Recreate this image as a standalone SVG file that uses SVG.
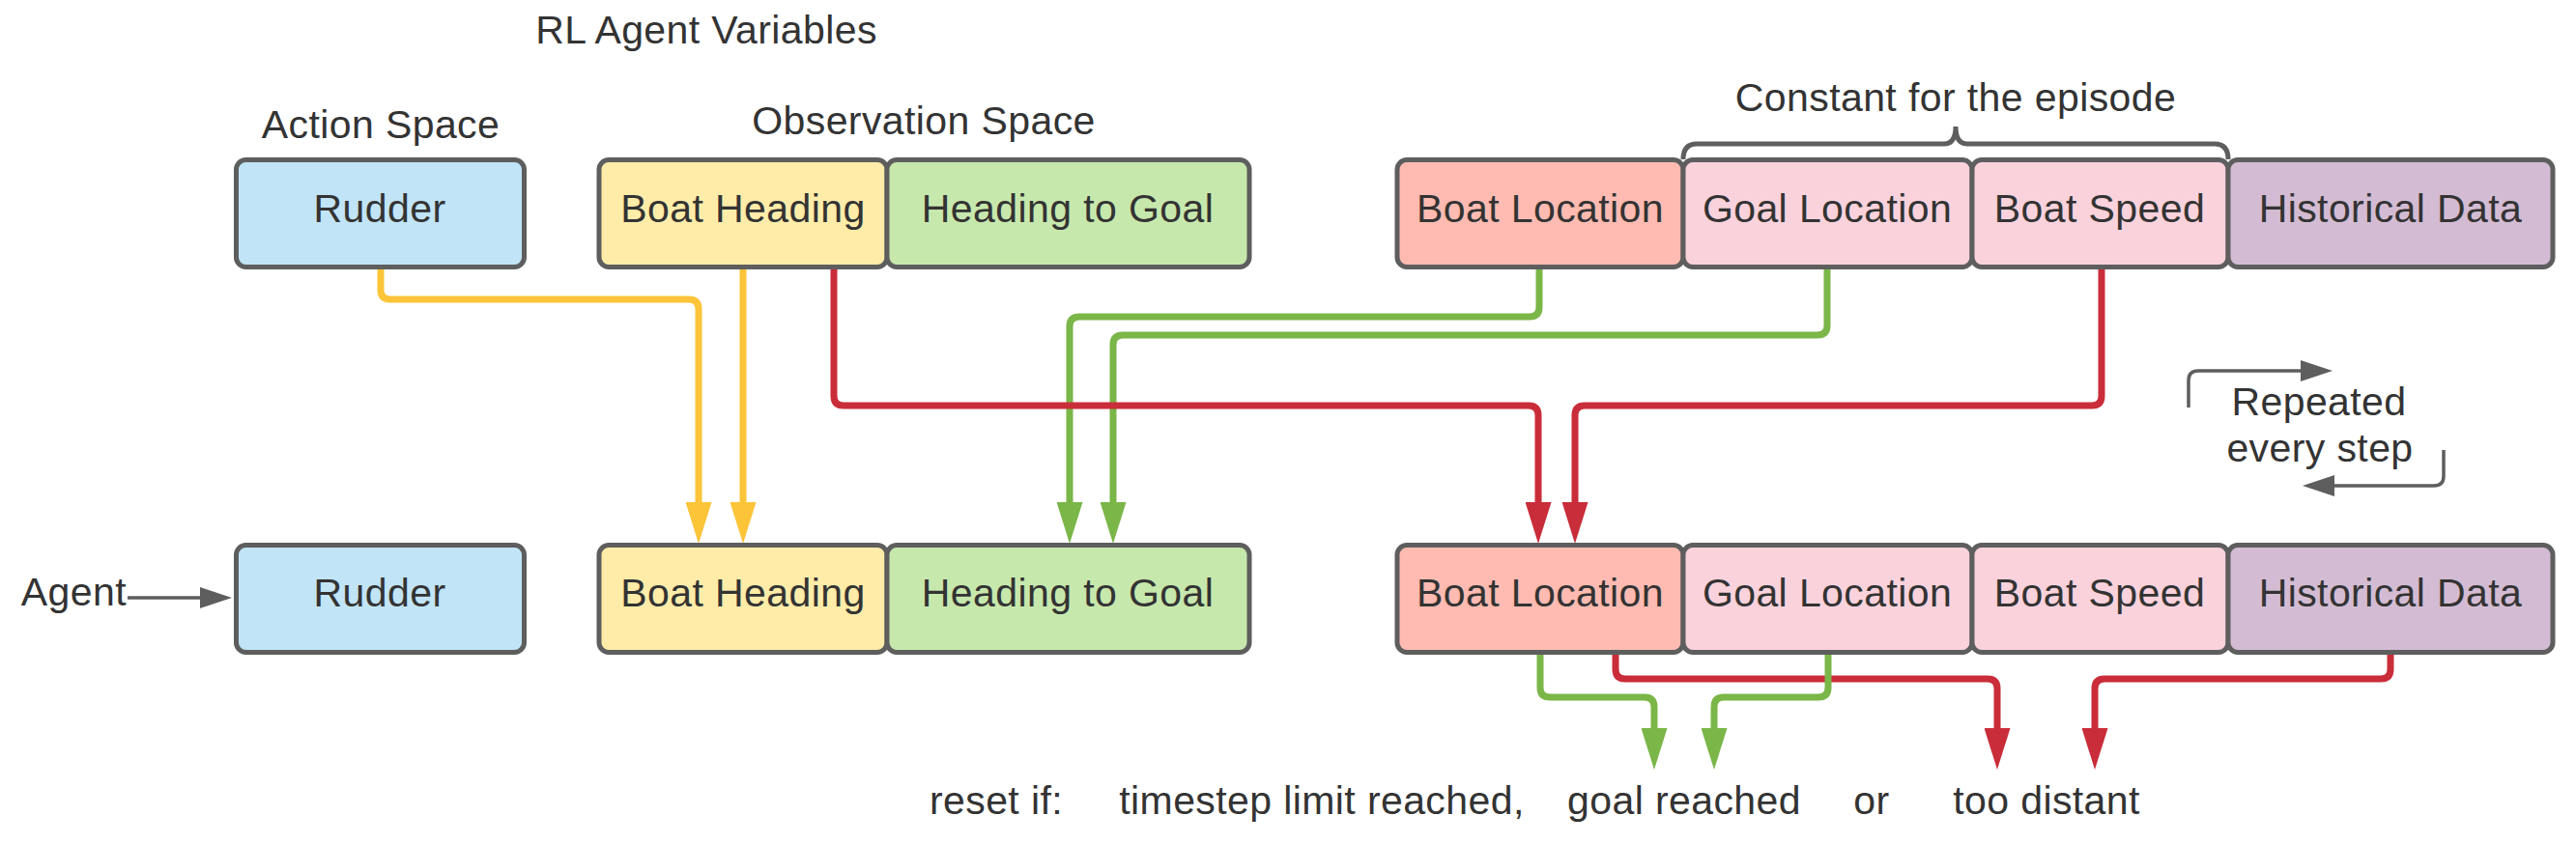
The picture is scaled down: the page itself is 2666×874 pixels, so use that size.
<svg xmlns="http://www.w3.org/2000/svg" width="2666" height="874" viewBox="0 0 2666 874">
<style>
text{font-family:"Liberation Sans",Arial,sans-serif;font-size:41px;letter-spacing:0.4px;fill:#333333;text-anchor:middle}
.box{stroke:#5e5e5e;stroke-width:5}
.blue{fill:#c1e4f7}.yellow{fill:#ffeca9}.green{fill:#c7e8ac}.red{fill:#ffbbb1}.pink{fill:#fad2dc}.purple{fill:#d3bcd3}
.c{fill:none;stroke-width:7;stroke-linejoin:round}
.cy{stroke:#fcc438}.cg{stroke:#7ab648}.cr{stroke:#c92d39}
.gr{fill:none;stroke:#5e5e5e;stroke-width:3.5}
</style>
<defs>
<marker id="ay" viewBox="0 -13.5 43 27" refX="1" refY="0" markerWidth="43" markerHeight="27" markerUnits="userSpaceOnUse" orient="auto"><path d="M0,-13.5 L43,0 L0,13.5 z" fill="#fcc438"/></marker>
<marker id="ag" viewBox="0 -13.5 43 27" refX="1" refY="0" markerWidth="43" markerHeight="27" markerUnits="userSpaceOnUse" orient="auto"><path d="M0,-13.5 L43,0 L0,13.5 z" fill="#7ab648"/></marker>
<marker id="ar" viewBox="0 -13.5 43 27" refX="1" refY="0" markerWidth="43" markerHeight="27" markerUnits="userSpaceOnUse" orient="auto"><path d="M0,-13.5 L43,0 L0,13.5 z" fill="#c92d39"/></marker>
<marker id="ak" viewBox="0 -11 33 22" refX="1" refY="0" markerWidth="33" markerHeight="22" markerUnits="userSpaceOnUse" orient="auto"><path d="M0,-11 L33,0 L0,11 z" fill="#5e5e5e"/></marker>
</defs>
<rect width="2666" height="874" fill="#ffffff"/>

<g id="labels">
<text x="731" y="45">RL Agent Variables</text>
<text x="394" y="143">Action Space</text>
<text x="956" y="139">Observation Space</text>
<text x="2024" y="115">Constant for the episode</text>
<path d="M1742,165 Q1742,149 1756,149 H2012 Q2024,149 2024,131 Q2024,149 2036,149 H2292 Q2306,149 2306,165" fill="none" stroke="#5e5e5e" stroke-width="5"/>
</g>

<g id="connectors">
<path class="c cg" d="M1593,279 V318 Q1593,328 1583,328 H1117 Q1107,328 1107,338 V521" marker-end="url(#ag)"/>
<path class="c cg" d="M1891,279 V337 Q1891,347 1881,347 H1162 Q1152,347 1152,357 V521" marker-end="url(#ag)"/>
<path class="c cy" d="M394,279 V300 Q394,310 404,310 H713 Q723,310 723,320 V521" marker-end="url(#ay)"/>
<path class="c cy" d="M769,279 V521" marker-end="url(#ay)"/>
<path class="c cr" d="M863,279 V410 Q863,420 873,420 H1582 Q1592,420 1592,430 V521" marker-end="url(#ar)"/>
<path class="c cr" d="M2175,279 V410 Q2175,420 2165,420 H1640 Q1630,420 1630,430 V521" marker-end="url(#ar)"/>
<path class="c cr" d="M1672,677 V693 Q1672,703 1682,703 H2057 Q2067,703 2067,713 V755" marker-end="url(#ar)"/>
<path class="c cr" d="M2474,677 V693 Q2474,703 2464,703 H2178 Q2168,703 2168,713 V755" marker-end="url(#ar)"/>
<path class="c cg" d="M1594,677 V712 Q1594,722 1604,722 H1702 Q1712,722 1712,732 V755" marker-end="url(#ag)"/>
<path class="c cg" d="M1892,677 V712 Q1892,722 1882,722 H1784 Q1774,722 1774,732 V755" marker-end="url(#ag)"/>
<path class="gr" d="M132,619 H208" marker-end="url(#ak)"/>
<path class="gr" d="M2265,422 V394 Q2265,384 2275,384 H2382" marker-end="url(#ak)"/>
<path class="gr" d="M2529,466 V493 Q2529,503 2519,503 H2415" marker-end="url(#ak)"/>
</g>

<g id="top-rudder"><rect class="box blue" x="244.5" y="165.5" width="298" height="111" rx="10"/><text x="393" y="230">Rudder</text></g>
<g id="top-boat-heading"><rect class="box yellow" x="620" y="165.5" width="298" height="111" rx="10"/><text x="769" y="230">Boat Heading</text></g>
<g id="top-heading-goal"><rect class="box green" x="918" y="165.5" width="375" height="111" rx="10"/><text x="1105" y="230">Heading to Goal</text></g>
<g id="top-boat-location"><rect class="box red" x="1446" y="165.5" width="296" height="111" rx="10"/><text x="1594" y="230">Boat Location</text></g>
<g id="top-goal-location"><rect class="box pink" x="1742" y="165.5" width="299" height="111" rx="10"/><text x="1891" y="230">Goal Location</text></g>
<g id="top-boat-speed"><rect class="box pink" x="2041" y="165.5" width="265" height="111" rx="10"/><text x="2173" y="230">Boat Speed</text></g>
<g id="top-historical"><rect class="box purple" x="2306" y="165.5" width="336" height="111" rx="10"/><text x="2474" y="230">Historical Data</text></g>

<g id="bot-rudder"><rect class="box blue" x="244.5" y="564.5" width="298" height="111" rx="10"/><text x="393" y="628">Rudder</text></g>
<g id="bot-boat-heading"><rect class="box yellow" x="620" y="564.5" width="298" height="111" rx="10"/><text x="769" y="628">Boat Heading</text></g>
<g id="bot-heading-goal"><rect class="box green" x="918" y="564.5" width="375" height="111" rx="10"/><text x="1105" y="628">Heading to Goal</text></g>
<g id="bot-boat-location"><rect class="box red" x="1446" y="564.5" width="296" height="111" rx="10"/><text x="1594" y="628">Boat Location</text></g>
<g id="bot-goal-location"><rect class="box pink" x="1742" y="564.5" width="299" height="111" rx="10"/><text x="1891" y="628">Goal Location</text></g>
<g id="bot-boat-speed"><rect class="box pink" x="2041" y="564.5" width="265" height="111" rx="10"/><text x="2173" y="628">Boat Speed</text></g>
<g id="bot-historical"><rect class="box purple" x="2306" y="564.5" width="336" height="111" rx="10"/><text x="2474" y="628">Historical Data</text></g>

<g id="agent"><text x="131" y="627" style="text-anchor:end">Agent</text></g>
<g id="repeated"><text x="2400" y="430">Repeated</text><text x="2401" y="478">every step</text></g>
<g id="reset">
<text x="1031" y="843">reset if:</text>
<text x="1368" y="843">timestep limit reached,</text>
<text x="1743" y="843">goal reached</text>
<text x="1937" y="843">or</text>
<text x="2118" y="843">too distant</text>
</g>
</svg>
